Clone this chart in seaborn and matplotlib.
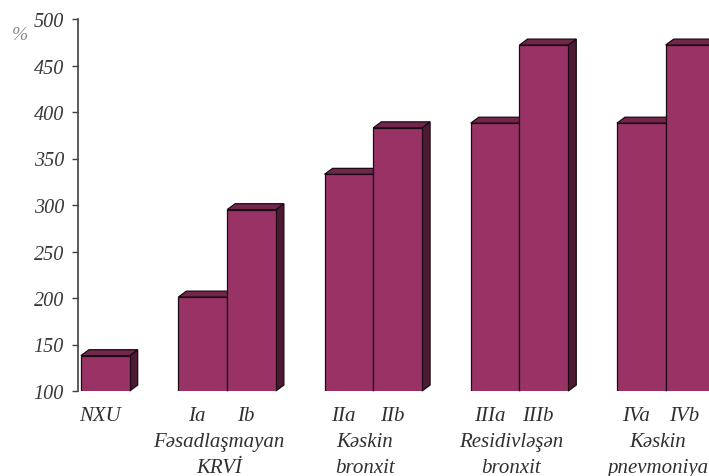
import matplotlib
matplotlib.use("Agg")
import matplotlib.pyplot as plt
import numpy as np
import pandas as pd
import seaborn as sns
from matplotlib.patches import Polygon

# data
bar_labels = ["NXU", "Ia", "Ib", "IIa", "IIb", "IIIa", "IIIb", "IVa", "IVb"]
bar_groups = [0, 1, 1, 2, 2, 3, 3, 4, 4]
values = [138, 201, 295, 333, 383, 388, 472, 388, 472]
group_names = ["", "Fəsadlaşmayan\nKRVİ", "Kəskin\nbronxit",
               "Residivləşən\nbronxit", "Kəskin\npnevmoniya"]
y_ticks = [100, 150, 200, 250, 300, 350, 400, 450, 500]

FRONT = "#993366"
TOP = "#72264c"
SIDE = "#4d1a34"
EDGE = "#1a0a12"
TEXT = "#303030"
DEPTH_X = 0.165  # in bar widths
DEPTH_Y = 6.4    # in y units

# place bars: adjacent inside a group, one empty slot between groups
positions = []
pos = 0.5
for i, g in enumerate(bar_groups):
    if i > 0 and g != bar_groups[i - 1]:
        pos += 1
    positions.append(pos)
    pos += 1

df = pd.DataFrame({"pos": positions, "value": values, "label": bar_labels})

sns.set_style("ticks")
plt.rcParams["font.family"] = ["Liberation Serif", "DejaVu Serif"]

fig = plt.figure(figsize=(7.09, 4.77), dpi=100)
x_left, x_right = -0.06, 13.5
px_per_unit = 48.73
ax = fig.add_axes([78 / 709, 85 / 477, (x_right - x_left) * px_per_unit / 709, 372 / 477])

sns.barplot(data=df, x="pos", y="value", native_scale=True, width=1.0,
            color=FRONT, saturation=1, edgecolor=EDGE, linewidth=0.9,
            errorbar=None, ax=ax)

floor = y_ticks[0]
for i, patch in enumerate(ax.patches):
    x0 = patch.get_x()
    x1 = x0 + patch.get_width()
    h = patch.get_height()
    base_z = 2 + 3 * i
    side = Polygon([(x1, floor), (x1 + DEPTH_X, floor + DEPTH_Y),
                    (x1 + DEPTH_X, h + DEPTH_Y), (x1, h)],
                   closed=True, facecolor=SIDE, edgecolor=EDGE, linewidth=0.9,
                   zorder=base_z, clip_on=False)
    top = Polygon([(x0, h), (x1, h), (x1 + DEPTH_X, h + DEPTH_Y),
                   (x0 + DEPTH_X, h + DEPTH_Y)],
                  closed=True, facecolor=TOP, edgecolor=EDGE, linewidth=0.9,
                  zorder=base_z + 1, clip_on=False)
    ax.add_patch(side)
    ax.add_patch(top)
    patch.set_zorder(base_z + 2)
    patch.set_clip_on(True)

ax.set_xlim(x_left, x_right)
ax.set_ylim(y_ticks[0], y_ticks[-1])
ax.set_yticks(y_ticks)
ax.set_yticklabels([str(t) for t in y_ticks], fontstyle="italic",
                   fontsize=14.5, color="#3a3a3a")
ax.tick_params(axis="y", direction="out", length=4, width=1, color="#404040", pad=6)
ax.set_xticks([])
ax.set_xlabel("")
ax.set_ylabel("")
sns.despine(ax=ax, bottom=True)
ax.spines["left"].set_color("#404040")
ax.spines["left"].set_linewidth(1.2)

blend = ax.get_xaxis_transform()
for p, lab in zip(positions, bar_labels):
    ax.annotate(lab, xy=(p, 0), xycoords=blend, xytext=(-4, -18),
                textcoords="offset points", ha="center", va="center",
                fontstyle="italic", fontsize=15, color=TEXT,
                annotation_clip=False)

for g, name in enumerate(group_names):
    if not name:
        continue
    gpos = [p for p, gg in zip(positions, bar_groups) if gg == g]
    center = np.mean(gpos)
    for k, line in enumerate(name.split("\n")):
        ax.annotate(line, xy=(center, 0), xycoords=blend,
                    xytext=(-6, -36.5 - 18.5 * k), textcoords="offset points",
                    ha="center", va="center", fontstyle="italic",
                    fontsize=15, color=TEXT, annotation_clip=False)

fig.text(20 / 709, 1 - 35 / 477, "%", ha="center", va="center",
         fontstyle="italic", fontsize=14, color="#8a8a8a")

fig.savefig("out.png", dpi=100)
